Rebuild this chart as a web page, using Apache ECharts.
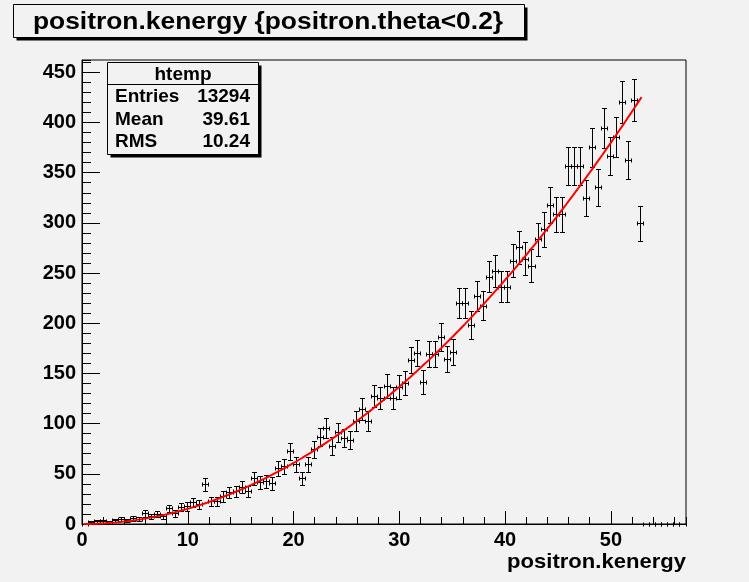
<!DOCTYPE html>
<html>
<head>
<meta charset="utf-8">
<script src="https://cdn.jsdelivr.net/npm/echarts@6/dist/echarts.min.js"></script>
<style>
  html, body { margin: 0; padding: 0; background: #f2f2f2; }
  #chart { width: 749px; height: 582px; }
</style>
</head>
<body>
<div id="chart"></div>
<script>
// histogram: 100 bins from 0 to 57.1
const xMin = 0;
const xMax = 57.1;
const yMax = 462.3;
const binWidth = (xMax - xMin) / 100;

const counts = [
  0, 1, 2, 2, 1, 3, 4, 3, 5, 4,
  10, 7, 9, 7, 15, 10, 16, 17, 21, 19,
  39, 22, 22, 27, 31, 32, 36, 32, 45, 41,
  42, 40, 55, 57, 72, 59, 45, 59, 74, 86,
  95, 77, 91, 85, 83, 102, 114, 102, 127, 125,
  137, 125, 136, 140, 163, 170, 141, 169, 169, 186,
  164, 171, 220, 220, 198, 227, 217, 246, 252, 236,
  236, 262, 275, 264, 257, 283, 293, 317, 308, 308,
  356, 356, 356, 324, 375, 335, 394, 366, 385, 420,
  362, 422, 299, 0, 0, 0, 0, 0, 0, 0
];

// pol2 fit: p0 + p1*x + p2*x^2, drawn over the fit range
const fitParams = [0, 0, 0.152];
const fitRange = [0.2, 52.9];

const titleText = "positron.kenergy {positron.theta<0.2}";
const statsName = "htemp";
const statsRows = [["Entries", "13294"], ["Mean", "39.61"], ["RMS", "10.24"]];
const xTitle = "positron.kenergy";

const FONT = '"Liberation Sans", Arial, sans-serif';
const bg = "#f2f2f2";

const histData = counts.map((c, i) => [xMin + (i + 0.5) * binWidth, c]);

const fitData = [];
for (let x = fitRange[0]; x <= fitRange[1] + 1e-9; x += 0.1) {
  fitData.push([x, fitParams[0] + fitParams[1] * x + fitParams[2] * x * x]);
}

function crisp(v) { return Math.round(v - 0.5) + 0.5; }

// error bar cross like ROOT "E" drawing: bin width horizontally, sqrt(N) vertically
function renderErrBar(params, api) {
  const x = api.value(0), y = api.value(1);
  const e = Math.sqrt(y);
  const pL = api.coord([x - binWidth / 2, y]);
  const pR = api.coord([x + binWidth / 2, y]);
  const pT = api.coord([x, y + e]);
  const pB = api.coord([x, y - e]);
  const st = { stroke: "#000", lineWidth: 1 };
  const cx = crisp(pT[0]), cy = crisp(pL[1]);
  const lines = [
    [pL[0], cy, pR[0], cy],
    [crisp(pL[0]), cy - 2, crisp(pL[0]), cy + 2],
    [crisp(pR[0]), cy - 2, crisp(pR[0]), cy + 2]
  ];
  if (e > 0) {
    lines.push([cx, pT[1], cx, pB[1]]);
    lines.push([cx - 2.5, crisp(pT[1]), cx + 2.5, crisp(pT[1])]);
    lines.push([cx - 2.5, crisp(pB[1]), cx + 2.5, crisp(pB[1])]);
  }
  return {
    type: "group",
    children: lines.map(l => ({
      type: "line",
      shape: { x1: l[0], y1: l[1], x2: l[2], y2: l[3] },
      style: st
    }))
  };
}

const labelStyle = { color: "#000", fontFamily: FONT, fontWeight: "bold", fontSize: 20 };

const chart = echarts.init(document.getElementById("chart"));
chart.setOption({
  backgroundColor: bg,
  animation: false,
  grid: {
    left: 82, top: 60, right: 63, bottom: 58,
    show: true, borderColor: "#000", borderWidth: 1, backgroundColor: "transparent"
  },
  xAxis: [
    {
      type: "value", position: "bottom", min: xMin, max: xMax, interval: 10,
      axisLine: { lineStyle: { color: "#000", width: 1 } },
      axisTick: { inside: true, length: 13, lineStyle: { color: "#000" } },
      axisLabel: Object.assign({ margin: 6, showMaxLabel: false }, labelStyle),
      splitLine: { show: false }
    },
    {
      type: "value", position: "bottom", min: xMin, max: xMax, interval: 2,
      axisLine: { show: false },
      axisTick: { inside: true, length: 7, lineStyle: { color: "#000" } },
      axisLabel: { show: false },
      splitLine: { show: false }
    }
  ],
  yAxis: [
    {
      type: "value", position: "left", min: 0, max: yMax, interval: 50,
      axisLine: { show: true, lineStyle: { color: "#000", width: 1 } },
      axisTick: { show: true, inside: true, length: 18, lineStyle: { color: "#000" } },
      axisLabel: Object.assign({ margin: 6, showMaxLabel: false }, labelStyle),
      splitLine: { show: false }
    },
    {
      type: "value", position: "left", min: 0, max: yMax, interval: 10,
      axisLine: { show: false },
      axisTick: { show: true, inside: true, length: 9, lineStyle: { color: "#000" } },
      axisLabel: { show: false },
      splitLine: { show: false }
    }
  ],
  series: [
    {
      type: "custom",
      xAxisIndex: 0, yAxisIndex: 0,
      renderItem: renderErrBar,
      data: histData,
      z: 2
    },
    {
      type: "line",
      xAxisIndex: 0, yAxisIndex: 0,
      data: fitData,
      showSymbol: false,
      symbol: "none",
      lineStyle: { color: "#ff0000", width: 2 },
      z: 3
    }
  ],
  graphic: [
    // title box
    { type: "rect", z: 100, shape: { x: 16.5, y: 7.5, width: 511, height: 33 }, style: { fill: "#000" } },
    { type: "rect", z: 101, shape: { x: 13.5, y: 4.5, width: 511, height: 33 }, style: { fill: bg, stroke: "#000", lineWidth: 1 } },
    { type: "text", z: 102, x: 268, y: 22, scaleX: 1.1,
      style: { text: titleText, x: 0, y: 0, textAlign: "center", textVerticalAlign: "middle", font: "bold 24px " + FONT, fill: "#000" } },
    // stats box
    { type: "rect", z: 100, shape: { x: 110.5, y: 65.5, width: 151, height: 92 }, style: { fill: "#000" } },
    { type: "rect", z: 101, shape: { x: 107.5, y: 62.5, width: 151, height: 92 }, style: { fill: bg, stroke: "#000", lineWidth: 1 } },
    { type: "line", z: 102, shape: { x1: 107.5, y1: 84.5, x2: 258.5, y2: 84.5 }, style: { stroke: "#000", lineWidth: 1 } },
    { type: "text", z: 102, style: { text: statsName, x: 183, y: 74.5, textAlign: "center", textVerticalAlign: "middle", font: "bold 19px " + FONT, fill: "#000" } },
    ...statsRows.flatMap((r, k) => [
      { type: "text", z: 102, style: { text: r[0], x: 115, y: 96.5 + k * 22.8, textAlign: "left", textVerticalAlign: "middle", font: "bold 19px " + FONT, fill: "#000" } },
      { type: "text", z: 102, style: { text: r[1], x: 250, y: 96.5 + k * 22.8, textAlign: "right", textVerticalAlign: "middle", font: "bold 19px " + FONT, fill: "#000" } }
    ]),
    // x axis title
    { type: "text", z: 102, x: 686, y: 562, scaleX: 1.05,
      style: { text: xTitle, x: 0, y: 0, textAlign: "right", textVerticalAlign: "middle", font: "bold 21px " + FONT, fill: "#000" } }
  ]
});
</script>
</body>
</html>
